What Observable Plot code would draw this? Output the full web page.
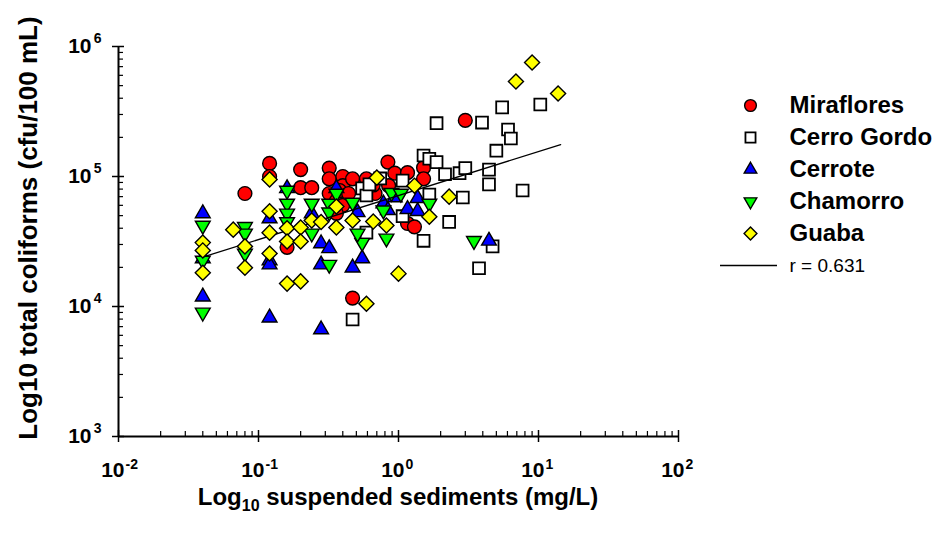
<!DOCTYPE html>
<html>
<head>
<meta charset="utf-8">
<script src="https://cdn.jsdelivr.net/npm/d3@7"></script>
<script src="https://cdn.jsdelivr.net/npm/@observablehq/plot@0.6"></script>
<style>
  body { margin: 0; background: #fff; }
  #wrap { position: relative; width: 938px; height: 535px; font-family: "Liberation Sans", Arial, sans-serif; }
  #legend { position: absolute; left: 700px; top: 85px; }
</style>
</head>
<body>
<div id="wrap"><div id="chart"></div><div id="legend"></div></div>
<script>
// ---- Data: [suspended sediments (mg/L), total coliforms (cfu/100 mL)] ----
const seriesNames = ["Miraflores", "Cerro Gordo", "Cerrote", "Chamorro", "Guaba"];
const fitLabel = "r = 0.631";
const yTitle = "Log10 total coliforms (cfu/100 mL)";

const miraflores = [
  [0.08, 74000], [0.12, 126000], [0.12, 100000], [0.2, 113000], [0.2, 82000],
  [0.24, 82000], [0.32, 116000], [0.32, 96000], [0.4, 100000], [0.4, 85000],
  [0.47, 96000], [0.59, 96000], [0.84, 129000], [0.94, 106000], [1.16, 107000],
  [1.51, 117000], [1.51, 96000], [0.32, 74000], [0.36, 65000], [0.4, 60000],
  [0.38, 78000], [0.44, 74000], [0.68, 74000], [0.85, 85000], [1.16, 43500],
  [1.3, 41000], [0.36, 52000], [3.0, 270000], [0.47, 11600], [0.16, 28500],
  [0.66, 86000]
];
const cerroGordo = [
  [1.87, 257000], [3.95, 260000], [5.5, 340000], [10.3, 358000], [6.06, 230000],
  [6.35, 196000], [5.0, 158000], [1.51, 145000], [1.66, 137000], [1.87, 129000],
  [2.15, 104000], [2.73, 106000], [3.0, 116000], [4.43, 113000], [4.43, 87000],
  [7.7, 78000], [1.07, 93000], [0.74, 96600], [1.66, 72500], [2.88, 68900],
  [2.3, 44700], [1.51, 32000], [4.7, 29000], [3.76, 19700], [1.07, 49500],
  [0.55, 81000], [0.59, 71400], [0.59, 37000], [0.47, 7940], [0.62, 87000]
];
const cerrote = [
  [0.04, 52000], [0.04, 23400], [0.04, 11900], [0.12, 47500], [0.12, 22600],
  [0.12, 21000], [0.12, 8200], [0.16, 81000], [0.24, 52000], [0.28, 6650],
  [0.28, 30500], [0.32, 28000], [0.28, 21000], [0.47, 19900], [0.55, 23400],
  [0.51, 53000], [0.36, 81000], [0.78, 61900], [0.84, 55000], [0.94, 69000],
  [1.16, 56000], [1.37, 54000], [1.37, 68000], [4.43, 32000]
];
const chamorro = [
  [0.04, 42000], [0.04, 22600], [0.04, 9000], [0.08, 41000], [0.08, 36500],
  [0.08, 25600], [0.16, 78000], [0.16, 62000], [0.16, 52000], [0.16, 44700],
  [0.24, 62000], [0.24, 36500], [0.32, 62000], [0.32, 53000], [0.32, 21000],
  [0.36, 74000], [0.47, 63000], [0.55, 31000], [0.51, 36500], [0.78, 55000],
  [0.82, 33400], [0.89, 75000], [1.04, 74000], [1.66, 62000], [3.46, 32000]
];
const guaba = [
  [6.9, 538000], [9.0, 753000], [13.8, 435000], [0.7, 98000], [1.3, 85000],
  [0.12, 95000], [0.04, 31000], [0.04, 27000], [0.04, 18200], [0.066, 39000],
  [0.08, 29000], [0.08, 19900], [0.12, 54000], [0.12, 37000], [0.12, 25600],
  [0.16, 40000], [0.16, 31600], [0.2, 40500], [0.2, 31600], [0.24, 45900],
  [0.28, 44700], [0.36, 40500], [0.36, 58800], [0.47, 45900], [0.66, 45000],
  [0.82, 42000], [0.16, 15000], [0.2, 15600], [0.59, 10500], [1.0, 17900],
  [2.3, 70000], [1.66, 49000]
];
// regression line end points
const fitX = [0.04, 14.4];
const fitY = [24000, 176000];

// axis ticks
const xTicks = [0.01, 0.1, 1, 10, 100];
const xTickExp = ["-2", "-1", "0", "1", "2"];
const yTicks = [1e3, 1e4, 1e5, 1e6];
const yTickExp = ["3", "4", "5", "6"];
const xMinor = [];
for (const d of [0.01, 0.1, 1, 10]) for (let k = 2; k <= 9; k++) xMinor.push(d * k);
const yMinor = [];
for (const d of [1e3, 1e4, 1e5]) for (let k = 2; k <= 9; k++) yMinor.push(d * k);

// ---- symbols ----
const downTriangle = {
  draw(ctx, size) {
    const s3 = Math.sqrt(3);
    const y = -Math.sqrt(size / (s3 * 3));
    ctx.moveTo(0, -y * 2);
    ctx.lineTo(-s3 * y, y);
    ctx.lineTo(s3 * y, y);
    ctx.closePath();
  }
};
const diamond = {
  draw(ctx, size) {
    const r = Math.sqrt(size) * 0.62625;
    ctx.moveTo(0, -r); ctx.lineTo(r, 0); ctx.lineTo(0, r); ctx.lineTo(-r, 0); ctx.closePath();
  }
};

const styles = [
  {data: miraflores, symbol: "circle", fill: "#ff0000", r: 6.9, sw: 1.4},
  {data: cerroGordo, symbol: "square", fill: "#ffffff", r: 6.7, sw: 1.8},
  {data: cerrote, symbol: "triangle", fill: "#0000ff", r: 5.5, sw: 1.4},
  {data: chamorro, symbol: downTriangle, fill: "#00ff00", r: 5.5, sw: 1.4},
  {data: guaba, symbol: diamond, fill: "#ffff00", r: 6.8, sw: 1.4}
];

const fit = fitX.map((x, i) => ({x, y: fitY[i]}));
const font = "Liberation Sans, Arial, sans-serif";

const seriesMarks = styles.map(s => Plot.dot(s.data, {
  x: d => d[0], y: d => d[1], symbol: s.symbol, fill: s.fill,
  stroke: "#000", strokeWidth: s.sw, r: s.r
}));

const chart = Plot.plot({
  width: 938, height: 535,
  marginLeft: 118, marginRight: 260, marginTop: 46, marginBottom: 99,
  style: {fontFamily: font, background: "#fff"},
  x: {type: "log", domain: [0.01, 100], axis: null},
  y: {type: "log", domain: [1e3, 1e6], axis: null},
  marks: [
    // axis lines
    Plot.ruleY([1e3], {stroke: "#000", strokeWidth: 2}),
    Plot.ruleX([0.01], {stroke: "#000", strokeWidth: 2}),
    // ticks
    Plot.axisX({ticks: xTicks, tickSize: 6, tickFormat: () => "", label: null, strokeWidth: 1.5}),
    Plot.axisX({ticks: xTicks, tickSize: -6, tickFormat: () => "", label: null, strokeWidth: 1.5}),
    Plot.axisX({ticks: xMinor, tickSize: -5, tickFormat: () => "", label: null, strokeWidth: 1.2}),
    Plot.axisY({ticks: yTicks, tickSize: 6, tickFormat: () => "", label: null, strokeWidth: 1.5}),
    Plot.axisY({ticks: yTicks, tickSize: -6, tickFormat: () => "", label: null, strokeWidth: 1.5}),
    Plot.axisY({ticks: yMinor, tickSize: -5, tickFormat: () => "", label: null, strokeWidth: 1.2}),
    // tick labels (base + superscript exponent)
    Plot.text(xTicks, {x: d => d, text: () => "10", frameAnchor: "bottom", dy: 40, dx: 6, textAnchor: "end", fontSize: 21, fontWeight: "bold", fill: "#000"}),
    Plot.text(xTicks, {x: d => d, text: (d, i) => xTickExp[i], frameAnchor: "bottom", dy: 32, dx: 7, textAnchor: "start", fontSize: 14, fontWeight: "bold", fill: "#000"}),
    Plot.text(yTicks, {y: d => d, text: () => "10", frameAnchor: "left", dx: -27, textAnchor: "end", fontSize: 21, fontWeight: "bold", fill: "#000"}),
    Plot.text(yTicks, {y: d => d, text: (d, i) => yTickExp[i], frameAnchor: "left", dx: -17, dy: -8, textAnchor: "end", fontSize: 14, fontWeight: "bold", fill: "#000"}),
    // data
    seriesMarks[0], seriesMarks[1], seriesMarks[2], seriesMarks[3],
    Plot.line(fit, {x: "x", y: "y", stroke: "#000", strokeWidth: 1.3}),
    seriesMarks[4]
  ]
});

const svg = d3.select(chart);
// y axis title
svg.append("text")
  .attr("transform", "translate(37,228) rotate(-90)")
  .attr("text-anchor", "middle")
  .attr("font-family", font).attr("font-size", 26).attr("font-weight", "bold").attr("fill", "#000")
  .text(yTitle);
// x axis title with subscript
const xt = svg.append("text")
  .attr("x", 398).attr("y", 505)
  .attr("text-anchor", "middle")
  .attr("font-family", font).attr("font-size", 24).attr("font-weight", "bold").attr("fill", "#000");
xt.append("tspan").text("Log");
xt.append("tspan").attr("font-size", 16).attr("dy", 6).text("10");
xt.append("tspan").attr("dy", -6).text(" suspended sediments (mg/L)");

document.getElementById("chart").appendChild(chart);

// ---- legend ----
const legendRows = [...seriesNames, fitLabel];
const legend = Plot.plot({
  width: 238, height: 200,
  marginLeft: 0, marginRight: 0, marginTop: 20, marginBottom: 20,
  style: {fontFamily: font, background: "transparent"},
  y: {type: "point", domain: legendRows, padding: 0, axis: null},
  marks: [
    ...styles.map((s, i) => Plot.dot([seriesNames[i]], {
      y: d => d, frameAnchor: "left", dx: 50, symbol: s.symbol, fill: s.fill,
      stroke: "#000", strokeWidth: s.sw, r: s.r * 0.85
    })),
    Plot.text(seriesNames, {y: d => d, text: d => d, frameAnchor: "left", dx: 89, textAnchor: "start", fontSize: 24, fontWeight: "bold", fill: "#000"}),
    Plot.ruleY([fitLabel], {y: d => d, insetLeft: 20, insetRight: 161, stroke: "#000", strokeWidth: 1.3}),
    Plot.text([fitLabel], {y: d => d, text: d => d, frameAnchor: "left", dx: 89, textAnchor: "start", fontSize: 19, fill: "#000"})
  ]
});
document.getElementById("legend").appendChild(legend);
</script>
</body>
</html>
